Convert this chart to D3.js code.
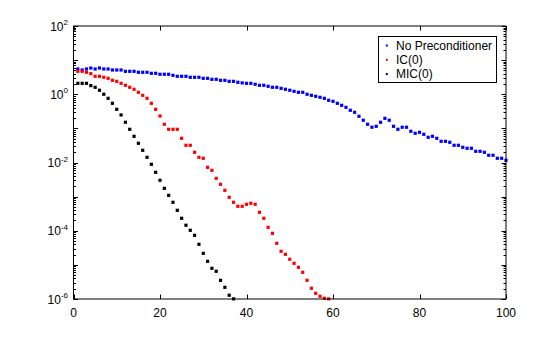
<!DOCTYPE html>
<html>
<head>
<meta charset="utf-8">
<script src="https://cdn.jsdelivr.net/npm/d3@7"></script>
<style>
  html, body { margin: 0; padding: 0; background: #fff; }
  svg { display: block; }
  text { font-family: "Liberation Sans", Arial, Helvetica, sans-serif; }
</style>
</head>
<body>
<svg id="chart" width="560" height="337"></svg>
<script>
// ---- data (residual norms per iteration, iterations start at 1) ----
const seriesNames = ["No Preconditioner", "IC(0)", "MIC(0)"];
const seriesColors = ["#0000ff", "#ff0000", "#000000"];

const noPrecond = [5.50, 5.14, 5.50, 5.87, 5.50, 5.87, 5.50, 5.50, 5.14, 5.14,
  5.14, 4.70, 4.70, 4.70, 4.40, 4.40, 4.40, 4.11, 4.11, 3.85,
  3.85, 3.85, 3.59, 3.36, 3.36, 3.36, 3.14, 3.14, 3.14, 2.93,
  2.93, 2.74, 2.74, 2.56, 2.56, 2.39, 2.39, 2.24, 2.15, 2.09,
  2.09, 1.96, 1.83, 1.83, 1.71, 1.60, 1.60, 1.49, 1.40, 1.31,
  1.22, 1.14, 1.14, 1.00, 0.931, 0.871, 0.815, 0.760, 0.665, 0.621,
  0.543, 0.474, 0.414, 0.339, 0.296, 0.226, 0.173, 0.132, 0.108, 0.115,
  0.151, 0.197, 0.173, 0.115, 0.0940, 0.108, 0.108, 0.0822, 0.0718, 0.0767,
  0.0670, 0.0548, 0.0586, 0.0512, 0.0418, 0.0418, 0.0391, 0.0319, 0.0319, 0.0279,
  0.0261, 0.0261, 0.0213, 0.0213, 0.0199, 0.0163, 0.0163, 0.0133, 0.0133, 0.0116];

const ic0 = [4.70, 4.70, 4.40, 4.01, 3.36, 3.36, 3.14, 2.93, 2.56, 2.39,
  2.09, 1.83, 1.60, 1.40, 1.14, 0.931, 0.760, 0.543, 0.362, 0.231,
  0.132, 0.094, 0.094, 0.094, 0.0512, 0.0319, 0.0319, 0.0199, 0.0142, 0.0133,
  0.00723, 0.00590, 0.00344, 0.00230, 0.00153, 9.55e-4, 6.82e-4, 5.21e-4, 5.21e-4, 5.96e-4,
  6.37e-4, 5.96e-4, 3.48e-4, 2.32e-4, 1.26e-4, 8.41e-5, 4.29e-5, 2.50e-5, 2.04e-5, 1.46e-5,
  1.11e-5, 8.49e-6, 6.07e-6, 3.53e-6, 2.06e-6, 1.47e-6, 1.20e-6, 1.05e-6, 1.01e-6];

const mic0 = [2.09, 2.09, 2.09, 1.79, 1.60, 1.31, 1.00, 0.760, 0.543, 0.362,
  0.247, 0.151, 0.094, 0.0586, 0.0366, 0.0228, 0.0142, 0.00885, 0.00516, 0.00301,
  0.00175, 0.00109, 6.82e-4, 3.97e-4, 2.32e-4, 1.45e-4, 1.03e-4, 7.36e-5, 4.01e-5, 2.18e-5,
  1.27e-5, 7.94e-6, 6.49e-6, 3.53e-6, 2.20e-6, 1.29e-6, 1.01e-6];

const xTicks = [0, 20, 40, 60, 80, 100];
const yTickExponents = [2, 0, -2, -4, -6];
const xDomain = [0, 100];
const yDomain = [1e-6, 1e2];

// ---- layout ----
const svg = d3.select("#chart");
const L = 73.5, R = 506, T = 26, B = 299;

const x = d3.scaleLinear().domain(xDomain).range([L, R]);
const y = d3.scaleLog().domain(yDomain).range([B, T]);

// plotting (clip to axes)
svg.append("clipPath").attr("id", "clip")
  .append("rect").attr("x", L - 2).attr("y", T).attr("width", R - L + 4).attr("height", B - T + 2);

const all = [noPrecond, ic0, mic0];
const plotG = svg.append("g").attr("clip-path", "url(#clip)");
all.forEach((vals, si) => {
  plotG.append("g").selectAll("rect")
    .data(vals.map((v, i) => ({ it: i + 1, v })))
    .join("rect")
    .attr("x", d => x(d.it) - 1.6)
    .attr("y", d => y(d.v) - 1.6)
    .attr("width", 3.2)
    .attr("height", 3.2)
    .attr("fill", seriesColors[si]);
});

// axes frame
const axG = svg.append("g");
axG.append("rect").attr("x", L).attr("y", T).attr("width", R - L).attr("height", B - T)
  .attr("fill", "none").attr("stroke", "#000").attr("stroke-width", 1);

// x ticks (inward, top and bottom)
xTicks.forEach(t => {
  const xp = Math.round(x(t)) + 0.5;
  axG.append("line").attr("x1", xp).attr("x2", xp).attr("y1", B).attr("y2", B - 4.5).attr("stroke", "#000");
  axG.append("line").attr("x1", xp).attr("x2", xp).attr("y1", T).attr("y2", T + 4.5).attr("stroke", "#000");
  axG.append("text").attr("x", x(t)).attr("y", 316.5).attr("text-anchor", "middle")
    .attr("font-size", 12).text(t);
});

// y ticks: majors at each decade, minors 2..9
const yMin = Math.log10(yDomain[0]), yMax = Math.log10(yDomain[1]);
for (let e = yMin; e <= yMax; e++) {
  const vals = [[Math.pow(10, e), 4.5]];
  if (e < yMax) for (let k = 2; k <= 9; k++) vals.push([k * Math.pow(10, e), 2.5]);
  vals.forEach(([v, len]) => {
    const yp = Math.round(y(v)) + 0.5;
    axG.append("line").attr("x1", L).attr("x2", L + len).attr("y1", yp).attr("y2", yp).attr("stroke", "#000");
    axG.append("line").attr("x1", R).attr("x2", R - len).attr("y1", yp).attr("y2", yp).attr("stroke", "#000");
  });
}

// y tick labels 10^n
yTickExponents.forEach(e => {
  const yp = y(Math.pow(10, e));
  const t = axG.append("text").attr("x", 68).attr("y", yp + 4.5).attr("text-anchor", "end")
    .attr("font-size", 12);
  t.append("tspan").text("10");
  t.append("tspan").attr("font-size", 8).attr("dy", -5.5).text(String(e).replace("-", "-"));
});

// legend
const lg = svg.append("g");
lg.append("rect").attr("x", 378.5).attr("y", 36.5).attr("width", 118).attr("height", 46)
  .attr("fill", "#fff").attr("stroke", "#000").attr("stroke-width", 1);
seriesNames.forEach((name, i) => {
  const cy = 45.5 + i * 14.3;
  lg.append("rect").attr("x", 385.8).attr("y", cy - 1).attr("width", 2).attr("height", 2)
    .attr("fill", seriesColors[i]);
  lg.append("text").attr("x", 396).attr("y", cy + 4.3).attr("font-size", 12).text(name);
});
</script>
</body>
</html>
